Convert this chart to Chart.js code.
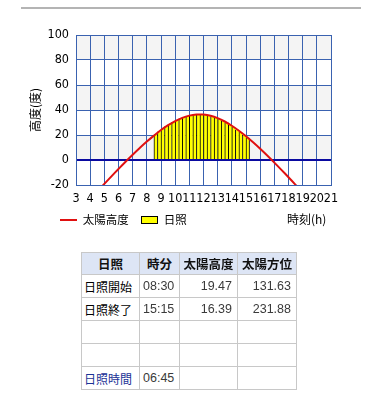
<!DOCTYPE html>
<html><head><meta charset="utf-8">
<script src="https://cdn.jsdelivr.net/npm/chart.js@4"></script>
<style>
html,body{margin:0;padding:0;background:#fff;width:381px;height:402px;overflow:hidden;position:relative;}
#topline{position:absolute;left:21px;top:7px;width:340px;height:2px;background:#b4b4b4;}
#wrap{position:absolute;left:0;top:0;width:381px;height:240px;}
#xtitle{position:absolute;left:287px;top:211px;font-size:12px;line-height:16px;font-family:'Noto Sans CJK JP',sans-serif;color:#000;white-space:nowrap;}
#tbl{position:absolute;left:81px;top:252px;border-collapse:collapse;table-layout:fixed;width:216px;font-family:'Liberation Sans','Noto Sans CJK JP',sans-serif;}
#tbl th,#tbl td{border:1px solid #c8c8c8;white-space:nowrap;overflow:hidden;box-sizing:border-box;}
#tbl th{background:#dde5f5;font-family:'Noto Sans CJK JP',sans-serif;font-weight:bold;font-size:12.5px;height:22px;padding:0;text-align:center;color:#111;}
#tbl td{height:23px;font-size:12.5px;color:#3a3a3a;padding:0 5px 0 2px;}
#tbl td.c0{font-family:'Noto Sans CJK JP',sans-serif;font-size:12px;color:#000;padding-left:2px;}
#tbl td.c1{text-align:left;padding-left:3px;}
#tbl td.c2,#tbl td.c3{text-align:right;}
#tbl td.blue{color:#1c3296;}
</style>
</head><body>
<div id="topline"></div>
<div id="wrap"><canvas id="c" width="381" height="240"></canvas></div>
<div id="xtitle">時刻(h)</div>
<table id="tbl"></table>
<script>
// ---- data ----
const xMin = 3, xMax = 21;
const yMin = -20, yMax = 100;
const altTimes  = [4.5,5,5.5,6,6.5,7,7.5,8,8.5,9,9.5,10,10.5,11,11.5,12,12.5,13,13.5,14,14.5,15,15.5,16,16.5,17,17.5,18,18.5,19];
const altValues = [-25.2,-19.1,-13.1,-7.19,-1.40,4.21,9.61,14.75,19.47,23.95,27.86,31.15,33.75,35.52,36.41,36.35,35.36,33.48,30.80,27.42,23.45,19.00,14.15,8.98,3.55,-2.09,-7.89,-13.82,-19.85,-25.9];
const sunTimes  = [8.625,8.875,9.125,9.375,9.625,9.875,10.125,10.375,10.625,10.875,11.125,11.375,11.625,11.875,12.125,12.375,12.625,12.875,13.125,13.375,13.625,13.875,14.125,14.375,14.625,14.875,15.125];
const sunValues = [20.70,22.90,24.98,26.94,28.74,30.39,31.87,33.17,34.28,35.16,35.83,36.27,36.48,36.45,36.19,35.69,34.97,34.03,32.88,31.54,30.01,28.32,26.48,24.49,22.38,20.15,17.82];
const seriesNames = ['太陽高度','日照'];
const yTitle = '高度(度)';
const tableHeader = ['日照','時分','太陽高度','太陽方位'];
const tableRows = [
  ['日照開始','08:30','19.47','131.63'],
  ['日照終了','15:15','16.39','231.88'],
  ['','','',''],
  ['','','',''],
  ['日照時間','06:45','','']
];

// ---- styles ----
const GRID = '#3a62b0';
const RED = '#e01010';
const YELLOW = '#ffff00';
const tickFont = {family:"'Liberation Sans Narrow','DejaVu Sans Condensed','Liberation Sans',sans-serif", size:12.5};
const cjkFont = {family:"'Noto Sans CJK JP',sans-serif", size:12};

function mkImg(w,h,draw){const c=document.createElement('canvas');c.width=w;c.height=h;draw(c.getContext('2d'),w,h);return c;}
const lineImg = mkImg(17,2,(g,w,h)=>{g.fillStyle=RED;g.fillRect(0,0,w,h);});
const boxImg = mkImg(17,8,(g,w,h)=>{g.fillStyle='#000';g.fillRect(0,0,w,h);g.fillStyle=YELLOW;g.fillRect(1,1,w-2,h-2);});

const bands = {
  id:'bands',
  beforeDraw(chart){
    const {ctx, chartArea:a, scales:{y}} = chart;
    const t = y.ticks.map(k=>k.value).sort((p,q)=>p-q);
    ctx.save();
    for(let i=0;i<t.length-1;i++){
      if(i%2===1){
        const y1=y.getPixelForValue(t[i+1]), y0=y.getPixelForValue(t[i]);
        ctx.fillStyle='#f4f4f4';
        ctx.fillRect(a.left,y1,a.right-a.left,y0-y1);
      }
    }
    ctx.restore();
  }
};
const legendPlace = {
  id:'legendPlace',
  afterLayout(chart){
    const l = chart.legend; if(!l) return;
    const pad = l.options.labels.padding;
    const h = l.height;
    l.left = 60 - pad; l.top = 202; l.bottom = l.top + h;
  }
};

new Chart(document.getElementById('c'), {
  type:'bar',
  data:{
    datasets:[
      {type:'line', label:seriesNames[0], data:altTimes.map((t,i)=>({x:t,y:altValues[i]})),
       borderColor:RED, borderWidth:2, pointRadius:0, tension:0.4, fill:false, order:0},
      {type:'bar', label:seriesNames[1], data:sunTimes.map((t,i)=>({x:t,y:sunValues[i]})),
       backgroundColor:YELLOW, borderColor:'#000',
       borderWidth:(c)=>({left:1,right:(c.dataIndex===sunTimes.length-1?1:0),top:0,bottom:0}),
       borderSkipped:false, barPercentage:1, categoryPercentage:1, order:1}
    ]
  },
  options:{
    responsive:false, animation:false, devicePixelRatio:1,
    layout:{padding:{left:28,right:50,top:35,bottom:0}},
    plugins:{
      tooltip:{enabled:false},
      legend:{display:true, position:'bottom', align:'start',
        labels:{usePointStyle:true, pointStyleWidth:17, padding:12.25, color:'#000',
          font:{family:cjkFont.family,size:11.5},
          generateLabels:()=>[
            {text:seriesNames[0], pointStyle:lineImg, fillStyle:RED, strokeStyle:RED, lineWidth:0, hidden:false, datasetIndex:0},
            {text:seriesNames[1], pointStyle:boxImg, fillStyle:YELLOW, strokeStyle:'#000', lineWidth:0, hidden:false, datasetIndex:1}
          ]}}
    },
    scales:{
      x:{type:'linear', min:xMin, max:xMax, offset:false,
        ticks:{stepSize:1, autoSkip:false, maxRotation:0, minRotation:0, padding:6, color:'#000', font:tickFont},
        grid:{color:GRID, lineWidth:1, drawTicks:false, offset:false},
        border:{color:GRID, width:1},
        afterFit:(s)=>{s.height=21.25;}
      },
      y:{type:'linear', min:yMin, max:yMax,
        ticks:{stepSize:20, padding:7, color:'#000', font:tickFont},
        grid:{color:(c)=>c.tick&&c.tick.value===0?'#0a0aa0':GRID, lineWidth:(c)=>c.tick&&c.tick.value===0?2:1, drawTicks:false},
        border:{color:GRID, width:1},
        title:{display:true, text:yTitle, color:'#000', font:cjkFont, padding:0},
        afterFit:(s)=>{s.width=48;}
      }
    }
  },
  plugins:[bands, legendPlace]
});

// ---- table ----
(function(){
  const tbl = document.getElementById('tbl');
  let html = '<colgroup><col style="width:58px"><col style="width:40px"><col style="width:58px"><col style="width:59px"></colgroup>';
  html += '<tr>' + tableHeader.map(h=>'<th>'+h+'</th>').join('') + '</tr>';
  tableRows.forEach((r,i)=>{
    html += '<tr>' + r.map((c,j)=>'<td class="c'+j+(i===tableRows.length-1&&j===0?' blue':'')+'">'+c+'</td>').join('') + '</tr>';
  });
  tbl.innerHTML = html;
})();
</script>
</body></html>
